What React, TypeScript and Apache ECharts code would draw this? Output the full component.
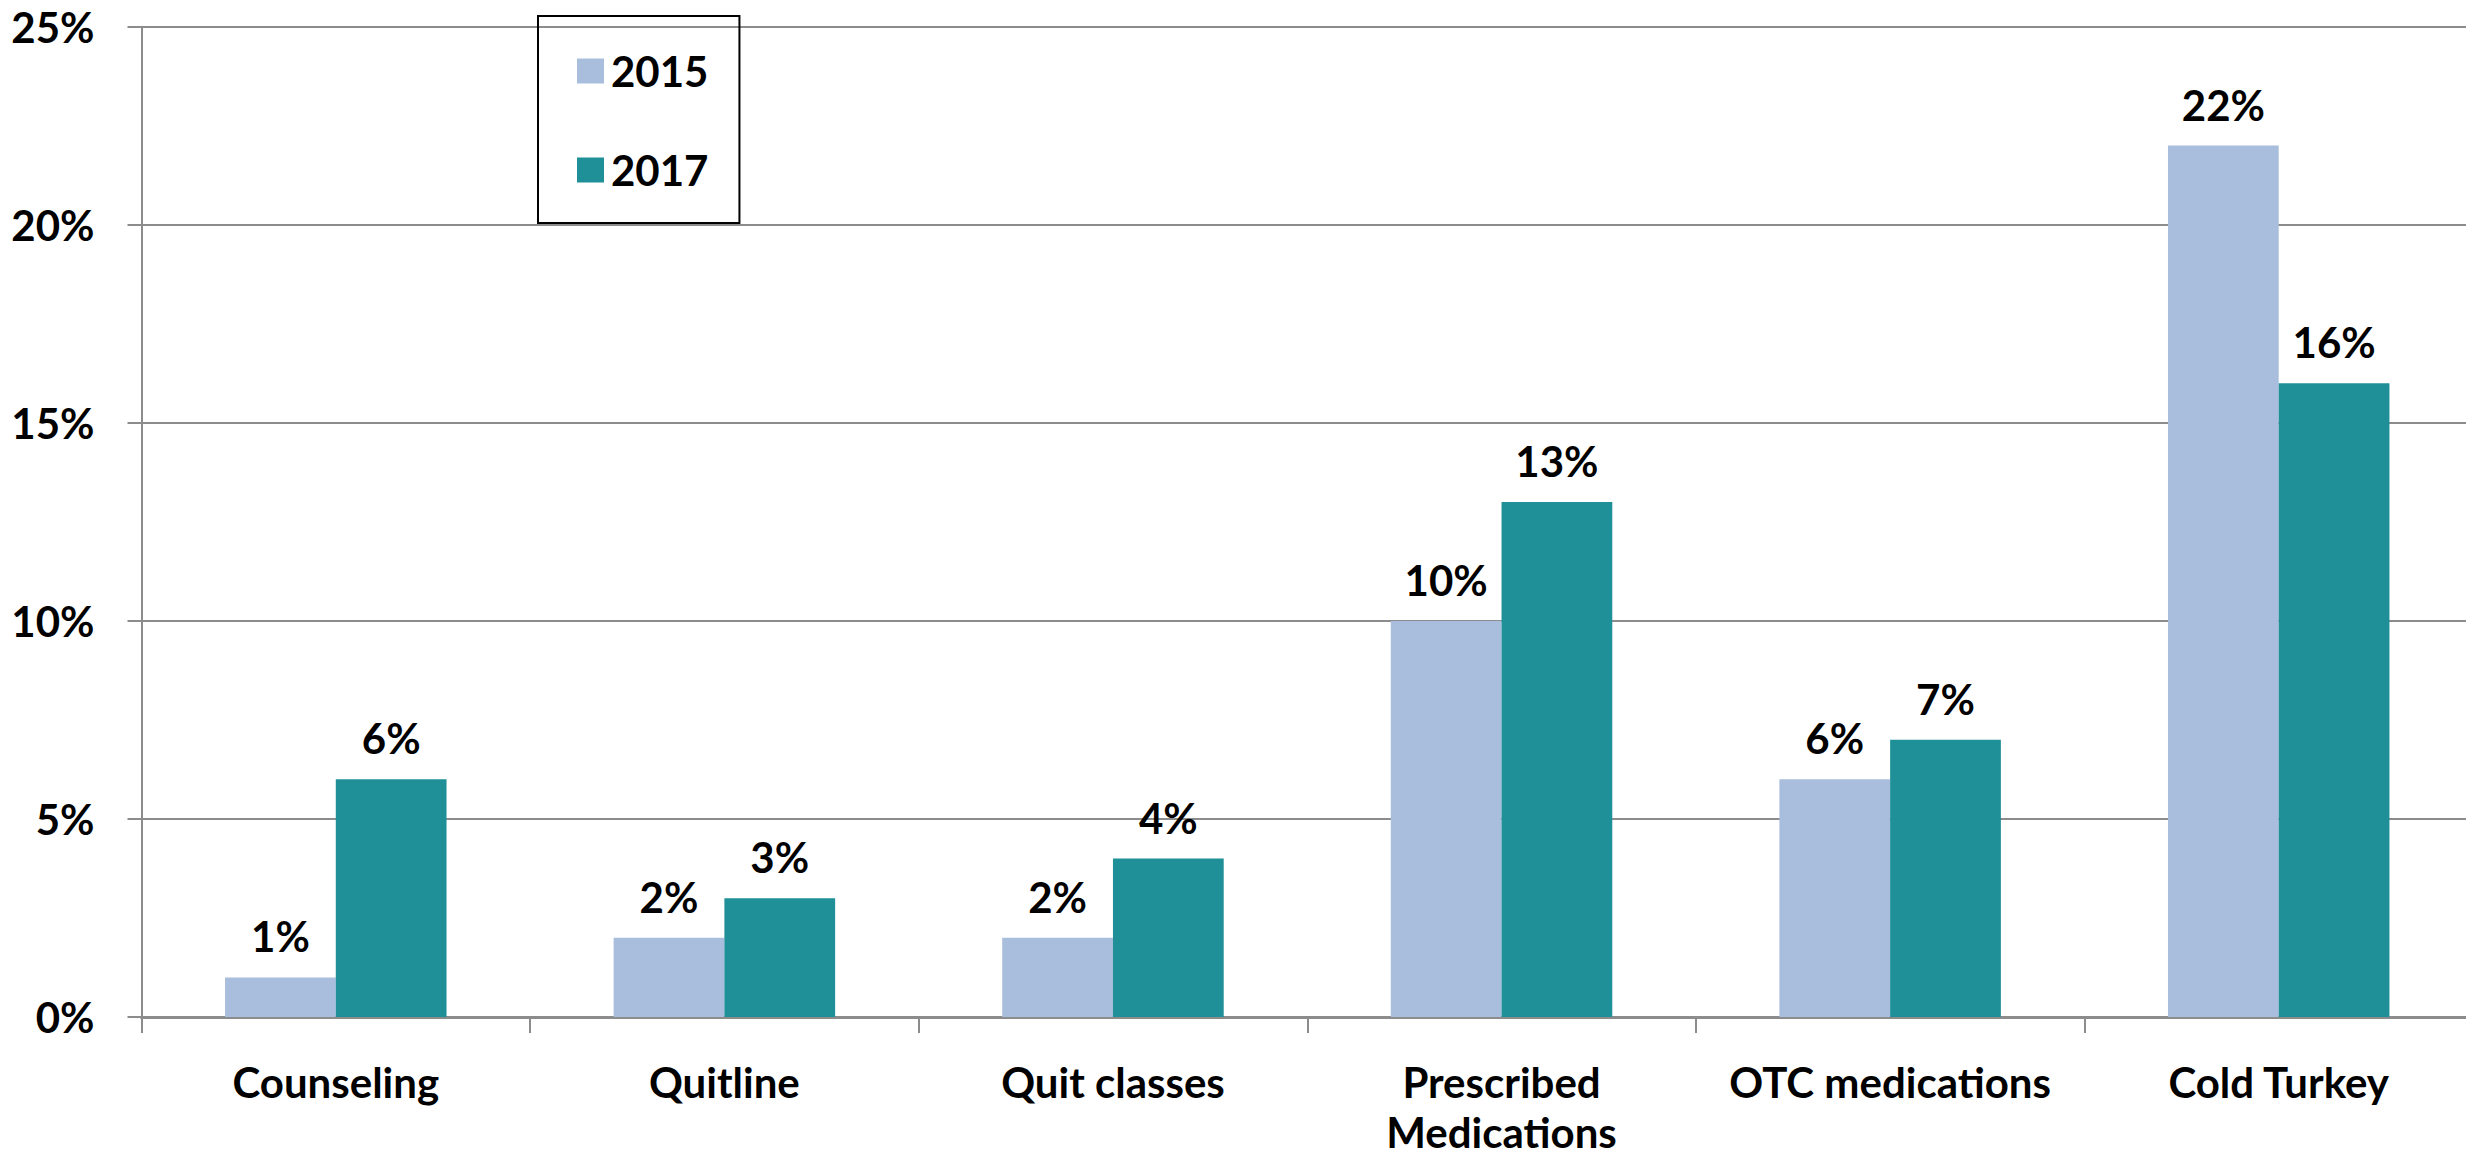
import React, { useEffect, useRef } from "react";
import * as echarts from "echarts";

const categories = ["Counseling", "Quitline", "Quit classes", "Prescribed\nMedications", "OTC medications", "Cold Turkey"];
const seriesNames = ["2015", "2017"];
const values2015 = [1, 2, 2, 10, 6, 22];
const values2017 = [6, 3, 4, 13, 7, 16];
const yTicks = { min: 0, max: 25, interval: 5 };

const FONT = "Lato, 'Open Sans', sans-serif";
const COLORS = ["#A9BEDC", "#1F8F98"];

export default function App() {
  const ref = useRef<HTMLDivElement>(null);
  useEffect(() => {
    if (!ref.current) return;
    const chart = echarts.init(ref.current, null, { renderer: "svg" });
    const labelStyle = {
      show: true,
      position: "top",
      distance: 20,
      formatter: "{c}%",
      fontFamily: FONT,
      fontWeight: "bold",
      fontSize: 42,
      color: "#000",
    };
    chart.setOption({
      animation: false,
      backgroundColor: "#fff",
      color: COLORS,
      textStyle: { fontFamily: FONT },
      grid: { left: 141.5, right: 0, top: 26.7, bottom: 139.5, containLabel: false },
      legend: {
        orient: "vertical",
        left: 538,
        top: 16,
        padding: [34, 31, 32, 39],
        itemGap: 57,
        itemWidth: 27,
        itemHeight: 25,
        icon: "rect",
        borderColor: "#000",
        borderWidth: 2,
        textStyle: { fontFamily: FONT, fontWeight: "bold", fontSize: 42, color: "#000", padding: [0, 0, 0, 2] },
        data: seriesNames,
      },
      xAxis: {
        type: "category",
        data: categories,
        axisLine: { lineStyle: { color: "#8c8c8c", width: 3 } },
        axisTick: { show: true, length: 16, lineStyle: { color: "#8c8c8c", width: 2 } },
        axisLabel: {
          interval: 0,
          margin: 40,
          fontFamily: FONT,
          fontWeight: "bold",
          fontSize: 42,
          lineHeight: 50,
          color: "#000",
        },
      },
      yAxis: {
        type: "value",
        min: yTicks.min,
        max: yTicks.max,
        interval: yTicks.interval,
        axisLine: { show: true, lineStyle: { color: "#8c8c8c", width: 2 } },
        axisTick: { show: true, length: 14, lineStyle: { color: "#8c8c8c", width: 2 } },
        splitLine: { show: true, lineStyle: { color: "#8c8c8c", width: 2 } },
        axisLabel: {
          formatter: "{value}%",
          margin: 47,
          fontFamily: FONT,
          fontWeight: "bold",
          fontSize: 42,
          color: "#000",
        },
      },
      series: [
        {
          name: seriesNames[0],
          type: "bar",
          data: values2015,
          barGap: "0%",
          barCategoryGap: "43%",
          itemStyle: { color: COLORS[0] },
          label: labelStyle,
        },
        {
          name: seriesNames[1],
          type: "bar",
          data: values2017,
          barGap: "0%",
          barCategoryGap: "43%",
          itemStyle: { color: COLORS[1] },
          label: labelStyle,
        },
      ],
    });
    return () => chart.dispose();
  }, []);
  return (
    <div style={{ position: "absolute", left: 0, top: 0, width: 2466, height: 1157, overflow: "hidden" }}>
      <div ref={ref} style={{ width: 2473, height: 1157 }} />
    </div>
  );
}
